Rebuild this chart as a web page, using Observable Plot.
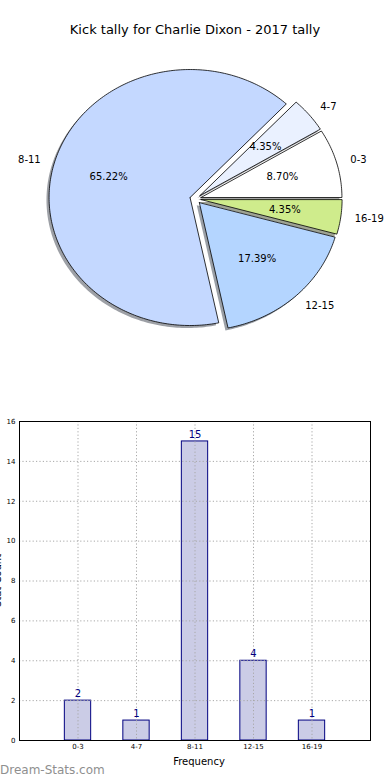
<!DOCTYPE html>
<html>
<head>
<meta charset="utf-8">
<script src="https://cdn.jsdelivr.net/npm/d3@7"></script>
<script src="https://cdn.jsdelivr.net/npm/@observablehq/plot@0.6"></script>
<style>
  body { margin: 0; background: #fff; font-family: "DejaVu Sans", sans-serif; }
  #page { position: relative; width: 390px; height: 780px; overflow: hidden; }
  .abs { position: absolute; }
  #title { left: 0; width: 390px; top: 22px; text-align: center; font-size: 13px; color: #000; }
  #pie { left: 0; top: 40px; }
  #bar { left: 0; top: 400px; }
  #ylab { left: -38px; top: 575px; width: 70px; text-align: center; font-size: 10px; transform: rotate(-90deg); transform-origin: 50% 50%; color:#000; }
  #xlab { left: 0; width: 390px; margin-left: 4px; top: 756px; text-align: center; font-size: 10px; color:#000; }
  #wm { left: 0; top: 763px; font-size: 12px; color: #8f8f8f; }
</style>
</head>
<body>
<div id="page">
  <div id="title" class="abs">Kick tally for Charlie Dixon - 2017 tally</div>
  <div id="pie" class="abs"></div>
  <div id="bar" class="abs"></div>
  <div id="ylab" class="abs">Stat Count</div>
  <div id="xlab" class="abs">Frequency</div>
  <div id="wm" class="abs">Dream-Stats.com</div>
</div>
<script>
// ---- data ----
const categories = ["0-3", "4-7", "8-11", "12-15", "16-19"];
const kickCounts = [2, 1, 15, 4, 1];
const sliceColors = ["#ffffff", "#eaf1ff", "#c4d8ff", "#b4d5ff", "#cfec8c"];
const yTicks = [0, 2, 4, 6, 8, 10, 12, 14, 16];

// ---- pie ----
const total = d3.sum(kickCounts);
const explode = 0.04;
let acc = 0;
const slices = kickCounts.map((v, i) => {
  const t1 = acc / total * 360;
  acc += v;
  const t2 = acc / total * 360;
  const m = (t1 + t2) / 2 * Math.PI / 180;
  const cx = explode * Math.cos(m), cy = explode * Math.sin(m);
  const pts = [{x: cx, y: cy}];
  const n = Math.max(4, Math.ceil(t2 - t1));
  for (let k = 0; k <= n; k++) {
    const a = (t1 + (t2 - t1) * k / n) * Math.PI / 180;
    pts.push({x: cx + Math.cos(a), y: cy + Math.sin(a)});
  }
  pts.push({x: cx, y: cy});
  return {
    label: categories[i], value: v, color: sliceColors[i], pts,
    lx: cx + 1.1 * Math.cos(m), ly: cy + 1.1 * Math.sin(m),
    px: cx + 0.6 * Math.cos(m), py: cy + 0.6 * Math.sin(m),
    pct: (v / total * 100).toFixed(2) + "%"
  };
});

const pieW = 390, pieH = 320, RX = 141, RY = 128, CX = 195, CY = 158.4;
const pieMarks = [];
for (const s of slices) {
  const c = d3.rgb(s.color);
  const sh = d3.rgb(c.r * 0.3, c.g * 0.3, c.b * 0.3).formatHex();
  pieMarks.push(Plot.line(s.pts, {x: "x", y: "y", fill: sh, fillOpacity: 0.5, stroke: "none", dx: -2.6, dy: 2.5, curve: "linear"}));
}
for (const s of slices) {
  pieMarks.push(Plot.line(s.pts, {x: "x", y: "y", fill: s.color, stroke: "#000", strokeWidth: 0.8, curve: "linear"}));
}
pieMarks.push(Plot.text(slices.filter(d => d.lx > 0), {x: "lx", y: "ly", text: "label", textAnchor: "start", fontSize: 10, fill: "#000"}));
pieMarks.push(Plot.text(slices.filter(d => d.lx <= 0), {x: "lx", y: "ly", text: "label", textAnchor: "end", fontSize: 10, fill: "#000"}));
pieMarks.push(Plot.text(slices, {x: "px", y: "py", text: "pct", fontSize: 10, fill: "#000"}));

const pie = Plot.plot({
  width: pieW, height: pieH, margin: 0,
  style: {fontFamily: "DejaVu Sans, sans-serif", background: "transparent", overflow: "visible"},
  x: {domain: [-CX / RX, (pieW - CX) / RX], range: [0, pieW], axis: null},
  y: {domain: [-(pieH - CY) / RY, CY / RY], range: [pieH, 0], axis: null},
  marks: pieMarks
});
document.getElementById("pie").appendChild(pie);

// ---- bar chart ----
const barData = categories.map((c, i) => ({i, label: c, value: kickCounts[i]}));
const bar = Plot.plot({
  width: 390, height: 380, marginLeft: 19, marginRight: 20, marginTop: 21, marginBottom: 40,
  style: {fontFamily: "DejaVu Sans, sans-serif", background: "transparent", overflow: "visible"},
  x: {domain: [-1, 5], axis: null},
  y: {domain: [0, 16], axis: null},
  marks: [
    Plot.rect(barData, {x1: d => d.i - 0.225, x2: d => d.i + 0.225, y1: 0, y2: "value", fill: "#cbcce6", stroke: "#000080", strokeWidth: 1}),
    Plot.gridX(d3.range(categories.length), {stroke: "#a8a8a8", strokeOpacity: 1, strokeDasharray: "1.2,2.2"}),
    Plot.gridY(yTicks.slice(1, -1), {stroke: "#a8a8a8", strokeOpacity: 1, strokeDasharray: "1.2,2.2"}),
    Plot.text(barData, {x: "i", y: "value", text: d => String(d.value), dy: -7, fill: "#000080", fontSize: 10}),
    Plot.frame({stroke: "#000", strokeWidth: 1}),
    Plot.axisY(yTicks, {tickSize: 0, tickPadding: 4, fontSize: 7, label: null, fill: "#000"}),
    Plot.axisX(d3.range(categories.length), {tickSize: 0, tickPadding: 4, fontSize: 7, tickFormat: i => categories[i], label: null, fill: "#000"})
  ]
});
document.getElementById("bar").appendChild(bar);
</script>
</body>
</html>
